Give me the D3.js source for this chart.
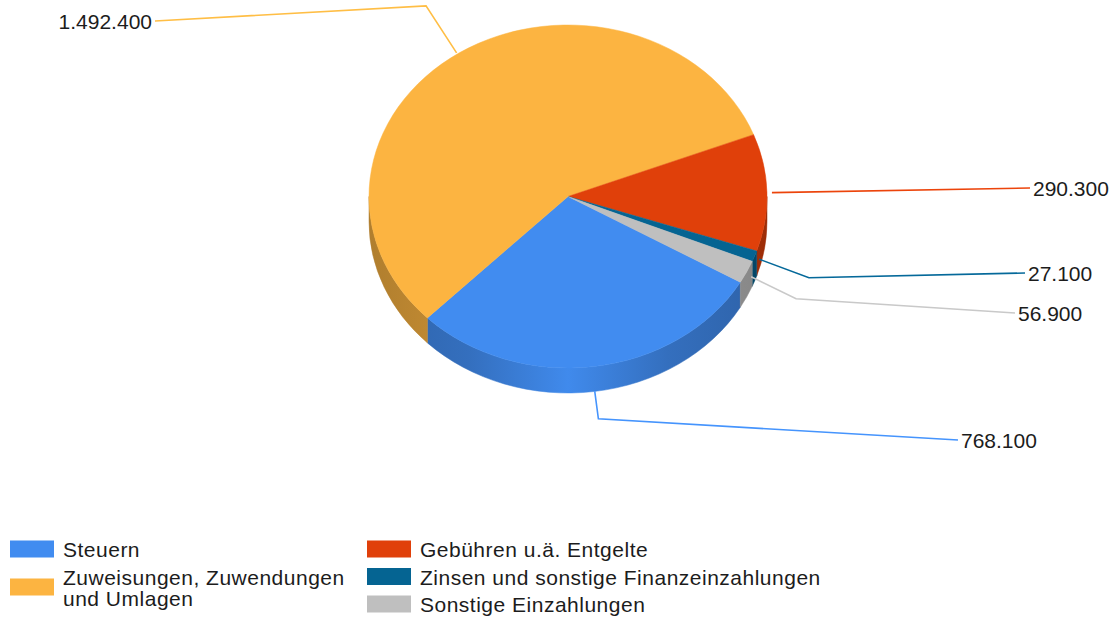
<!DOCTYPE html>
<html>
<head>
<meta charset="utf-8">
<script src="https://cdn.jsdelivr.net/npm/d3@7.9.0/dist/d3.min.js"></script>
<style>
  body { margin: 0; background: #fff; }
  svg text { font-family: "Liberation Sans", Arial, sans-serif; font-size: 21px; fill: #1c1c1c; }
  .legend text { letter-spacing: 0.5px; }
</style>
</head>
<body>
<svg id="chart" width="1115" height="618"></svg>
<script>
// data
const categories = [
    "Steuern",
    "Zuweisungen, Zuwendungen und Umlagen",
    "Gebühren u.ä. Entgelte",
    "Zinsen und sonstige Finanzeinzahlungen",
    "Sonstige Einzahlungen"
];
const values = [768100, 1492400, 290300, 27100, 56900];
const colors = ["#418CF0", "#FCB441", "#E0400A", "#056492", "#BFBFBF"];

// label placement (elbow length and where the leader ends)
const labelLayout = [
    { len: 28, x: 958, y: 440, anchor: "start" },
    { len: 56, x: 155, y: 21, anchor: "end" },
    { len: 0, x: 1030, y: 188, anchor: "start" },
    { len: 53, x: 1025, y: 273, anchor: "start" },
    { len: 50, x: 1015, y: 313, anchor: "start" }
];
// legend: which column each entry goes in
const legendColumn = [0, 0, 1, 1, 1];

const de = d3.formatLocale({ decimal: ",", thousands: ".", grouping: [3], currency: ["", " €"] });
const fmt = de.format(",d");

const cx = 568, cy = 196.5, rx = 199, ry = 171.5, depth = 25;
const rad = Math.PI / 180;

const svg = d3.select("#chart");
const defs = svg.append("defs");

const pie = d3.pie()
    .sort(null)
    .value(d => d.value)
    .startAngle(120 * rad)
    .endAngle(480 * rad);

const slices = pie(values.map((v, i) => ({ value: v, i })));

function pt(a, dy = 0) {
    return [cx + rx * Math.sin(a), cy - ry * Math.cos(a) + dy];
}

// side gradients: dark at the edges, lighter in front
colors.forEach((c, i) => {
    const g = defs.append("linearGradient")
        .attr("id", "side" + i)
        .attr("gradientUnits", "userSpaceOnUse")
        .attr("x1", cx - rx).attr("x2", cx + rx)
        .attr("y1", 0).attr("y2", 0);
    [[0, 1.0], [0.25, 0.65], [0.5, 0.05], [0.75, 0.65], [1, 1.0]].forEach(([o, k]) => {
        g.append("stop").attr("offset", o).attr("stop-color", d3.color(c).darker(k));
    });
});

// visible front wall: angles between 90° and 270° (mod 360)
const sides = svg.append("g").attr("class", "sides");
slices.forEach(s => {
    for (const off of [0, 2 * Math.PI]) {
        const a0 = Math.max(s.startAngle, Math.PI / 2 + off);
        const a1 = Math.min(s.endAngle, 1.5 * Math.PI + off);
        if (a1 <= a0) continue;
        const p0 = pt(a0), p1 = pt(a1), q1 = pt(a1, depth), q0 = pt(a0, depth);
        const large = (a1 - a0) > Math.PI ? 1 : 0;
        const path = `M${p0}A${rx},${ry} 0 ${large} 1 ${p1}L${q1}A${rx},${ry} 0 ${large} 0 ${q0}Z`;
        sides.append("path")
            .attr("d", path)
            .attr("fill", `url(#side${s.data.i})`)
            .attr("stroke", `url(#side${s.data.i})`)
            .attr("stroke-width", 0.5);
    }
});

// top face
svg.append("g").attr("class", "top")
    .selectAll("path")
    .data(slices)
    .join("path")
    .attr("d", s => {
        const p0 = pt(s.startAngle), p1 = pt(s.endAngle);
        const large = (s.endAngle - s.startAngle) > Math.PI ? 1 : 0;
        return `M${cx},${cy}L${p0}A${rx},${ry} 0 ${large} 1 ${p1}Z`;
    })
    .attr("fill", s => colors[s.data.i])
    .attr("stroke", s => colors[s.data.i])
    .attr("stroke-width", 0.5);

// leader lines and value labels
const labels = svg.append("g").attr("class", "labels");
slices.forEach(s => {
    const L = labelLayout[s.data.i];
    const a = (s.startAngle + s.endAngle) / 2;
    const ux = Math.sin(a), uy = -Math.cos(a);
    const ax = cx + (rx + 5) * ux;
    const ay = cy + ry * uy + (uy > 0 ? depth * uy * uy : 0);
    const ex = ax + L.len * ux, ey = ay + L.len * uy;
    labels.append("path")
        .attr("d", d3.line()([[ax, ay], [ex, ey], [L.x, L.y]]))
        .attr("fill", "none")
        .attr("stroke", d3.color(colors[s.data.i]).brighter(0.15))
        .attr("stroke-width", 1.6);
    labels.append("text")
        .attr("x", L.anchor === "end" ? L.x - 3 : L.x + 3)
        .attr("y", L.y)
        .attr("dy", "0.36em")
        .attr("text-anchor", L.anchor)
        .text(fmt(values[s.data.i]));
});

// legend
const legend = svg.append("g").attr("class", "legend");
const colX = [10, 367];
const colWrap = [290, 700];
const colBase = [557, 557];
const lineH = 21, rowGap = 27.5;
categories.forEach((name, i) => {
    const col = legendColumn[i];
    const x = colX[col];
    const t = legend.append("text").attr("x", x + 53);
    // wrap to column width
    const words = name.split(" ");
    let lines = [], cur = "";
    const probe = legend.append("text");
    words.forEach(w => {
        const test = cur ? cur + " " + w : w;
        probe.text(test);
        if (cur && probe.node().getComputedTextLength() > colWrap[col]) {
            lines.push(cur);
            cur = w;
        } else {
            cur = test;
        }
    });
    lines.push(cur);
    probe.remove();
    const first = colBase[col];
    lines.forEach((ln, k) => {
        t.append("tspan").attr("x", x + 53).attr("y", first + k * lineH).text(ln);
    });
    const last = first + (lines.length - 1) * lineH;
    const mid = (first - 14 + last) / 2 - 1;
    legend.append("rect")
        .attr("x", x).attr("y", mid - 8.5)
        .attr("width", 44).attr("height", 17)
        .attr("fill", colors[i]);
    colBase[col] = last + rowGap;
});
</script>
</body>
</html>
